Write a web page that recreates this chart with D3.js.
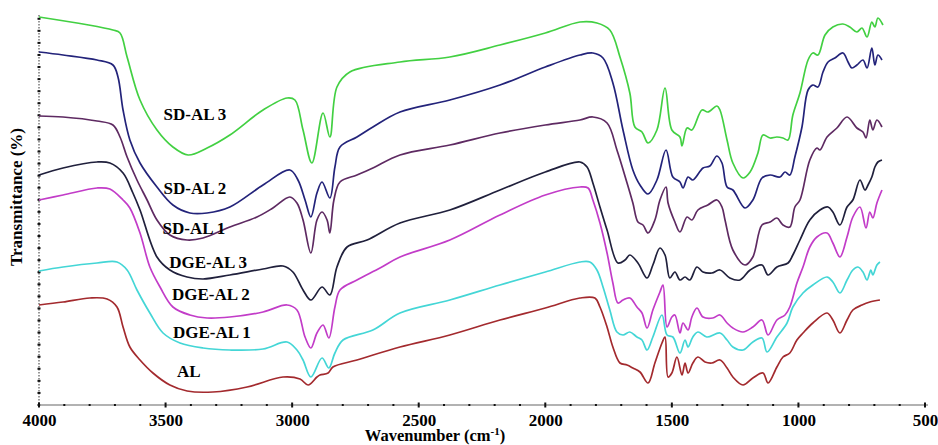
<!DOCTYPE html>
<html>
<head>
<meta charset="utf-8">
<script src="https://cdn.jsdelivr.net/npm/d3@7"></script>
<style>
  body { margin: 0; background: #fff; }
  svg text { font-family: "Liberation Serif", "Times New Roman", serif; font-weight: bold; }
</style>
</head>
<body>
<svg id="chart" width="938" height="445"></svg>
<script>
// FTIR spectra, [wavenumber cm-1, transmittance (offset, a.u.)]
const sdAl3 = [[4000,38.8],[3708,37.5],[3680,37.2],[3652,34.8],[3601,30.5],[3534,27.5],[3471,25.8],[3411,25.0],[3336,25.7],[3246,27.0],[3115,29.5],[3020,30.7],[2989,30.5],[2957,27.5],[2922,24.2],[2878,29.2],[2851,26.8],[2823,31.8],[2772,33.3],[2574,34.3],[2377,34.8],[2179,36.0],[2000,37.2],[1863,38.3],[1796,38.2],[1745,37.5],[1705,34.8],[1666,31.2],[1646,27.8],[1618,27.3],[1594,26.2],[1559,27.5],[1527,31.7],[1500,27.5],[1468,26.8],[1460,25.9],[1440,27.7],[1421,27.5],[1381,29.5],[1358,29.3],[1322,29.9],[1310,29.5],[1282,26.5],[1259,24.2],[1219,22.7],[1191,23.3],[1160,25.2],[1140,27.0],[1112,26.7],[1085,26.8],[1061,26.7],[1041,26.5],[1022,29.0],[994,31.2],[962,34.5],[943,35.2],[923,35.0],[895,37.0],[864,37.8],[824,38.1],[797,37.8],[769,37.3],[749,37.7],[729,36.8],[710,38.3],[698,37.8],[686,38.7],[666,38.0]];

const sdAl2 = [[4000,35.3],[3905,35.0],[3771,34.5],[3708,34.0],[3688,32.8],[3668,29.5],[3641,26.5],[3601,24.2],[3534,21.8],[3471,20.0],[3404,19.2],[3336,19.2],[3246,19.8],[3115,22.0],[3009,23.5],[2977,22.5],[2949,20.5],[2926,18.8],[2902,21.2],[2882,22.3],[2851,20.7],[2831,23.8],[2811,25.8],[2744,26.8],[2681,27.8],[2574,29.3],[2377,30.5],[2179,32.0],[2000,33.8],[1863,35.0],[1812,35.2],[1772,34.7],[1733,32.2],[1693,27.5],[1654,23.5],[1626,22.0],[1594,21.1],[1559,22.5],[1523,25.5],[1496,22.8],[1468,22.3],[1456,21.7],[1436,22.8],[1417,22.5],[1377,23.7],[1350,23.9],[1322,24.9],[1302,24.2],[1282,21.8],[1259,21.5],[1211,19.7],[1180,20.5],[1144,22.7],[1112,23.0],[1073,22.8],[1053,23.3],[1034,23.0],[1014,24.8],[986,27.8],[962,31.5],[943,32.0],[923,31.8],[903,33.3],[883,34.3],[856,34.7],[824,35.2],[804,34.3],[789,33.7],[769,34.0],[745,34.5],[729,33.7],[710,35.7],[698,34.0],[686,35.0],[670,34.5]];

const sdAl1 = [[4000,28.9],[3905,28.8],[3771,28.4],[3708,28.0],[3680,26.8],[3652,24.8],[3613,22.5],[3573,20.5],[3534,18.5],[3483,17.0],[3415,16.5],[3352,16.7],[3246,17.8],[3139,18.8],[3076,19.7],[3009,20.8],[2981,20.2],[2957,18.5],[2926,15.2],[2902,18.5],[2882,19.3],[2862,18.5],[2851,17.2],[2835,20.5],[2811,22.3],[2744,23.0],[2681,23.7],[2574,25.0],[2377,26.0],[2179,27.2],[2000,28.0],[1863,28.5],[1812,28.8],[1756,28.2],[1717,25.5],[1677,22.2],[1654,20.2],[1634,18.3],[1614,18.0],[1594,17.2],[1567,18.5],[1547,20.5],[1523,21.8],[1515,20.2],[1488,18.3],[1468,17.3],[1440,18.8],[1421,18.5],[1397,19.5],[1358,20.0],[1322,20.5],[1302,19.8],[1290,18.5],[1259,15.5],[1211,14.0],[1180,14.8],[1144,18.0],[1112,18.3],[1085,18.7],[1061,18.0],[1034,17.8],[1014,19.8],[994,20.5],[955,24.5],[927,25.7],[915,25.5],[887,26.8],[848,27.7],[808,28.8],[769,27.7],[745,27.3],[733,26.7],[718,28.5],[706,27.5],[690,28.5],[670,27.8]];

const dgeAl3 = [[4000,23.0],[3905,23.7],[3771,24.3],[3720,24.2],[3668,23.2],[3629,21.2],[3601,19.5],[3534,14.8],[3483,13.5],[3415,12.8],[3352,12.6],[3246,13.0],[3115,13.6],[3036,13.9],[2997,13.3],[2957,11.5],[2926,10.5],[2882,11.8],[2851,11.0],[2823,13.8],[2783,15.8],[2704,16.5],[2574,18.2],[2377,19.5],[2179,21.5],[2000,23.3],[1863,24.3],[1835,23.8],[1812,22.2],[1784,19.8],[1756,17.5],[1713,14.2],[1685,14.5],[1666,15.0],[1634,14.2],[1598,12.7],[1575,14.0],[1547,15.7],[1527,15.0],[1508,12.7],[1488,13.3],[1468,12.5],[1448,12.8],[1429,12.5],[1401,13.8],[1377,13.3],[1342,13.2],[1310,13.5],[1271,12.7],[1231,12.5],[1191,13.5],[1144,14.0],[1120,13.0],[1085,13.8],[1041,14.2],[1022,15.0],[994,16.5],[955,18.5],[915,19.5],[883,19.8],[864,19.3],[836,18.0],[808,19.8],[785,20.5],[757,22.5],[737,21.5],[725,22.0],[710,22.8],[698,23.8],[686,24.3],[670,24.5]];

const dgeAl2 = [[4000,20.5],[3905,21.0],[3771,21.7],[3720,21.6],[3668,20.5],[3641,19.7],[3601,17.2],[3562,13.8],[3522,11.8],[3471,9.8],[3404,9.0],[3336,8.7],[3246,8.8],[3115,9.3],[3020,10.0],[2981,9.5],[2949,6.8],[2926,5.7],[2902,7.2],[2878,8.0],[2855,6.7],[2831,9.8],[2811,11.5],[2744,12.5],[2653,13.7],[2574,14.8],[2377,16.5],[2179,19.0],[2000,21.0],[1863,21.8],[1831,21.7],[1812,20.5],[1784,18.2],[1756,15.2],[1733,12.2],[1713,10.2],[1693,10.5],[1666,10.7],[1638,9.8],[1618,9.2],[1598,7.7],[1575,9.5],[1547,11.3],[1535,12.0],[1519,7.8],[1500,8.8],[1488,9.0],[1468,7.2],[1456,8.2],[1436,7.5],[1421,8.8],[1401,9.7],[1377,8.8],[1338,8.7],[1310,9.0],[1282,8.2],[1259,7.7],[1219,7.3],[1180,7.8],[1144,8.5],[1120,7.0],[1085,8.5],[1053,9.0],[1034,9.8],[1006,12.2],[982,13.8],[955,15.8],[927,16.8],[887,17.2],[864,16.2],[836,14.8],[808,16.8],[785,18.8],[757,19.8],[733,17.7],[718,19.3],[706,18.7],[690,20.2],[670,21.5]];

const dgeAl1 = [[4000,13.4],[3905,13.8],[3771,14.2],[3692,14.3],[3652,13.5],[3613,11.5],[3562,9.2],[3510,7.2],[3443,6.2],[3352,5.7],[3246,5.5],[3115,5.6],[3020,6.3],[2981,5.5],[2957,4.5],[2926,2.8],[2882,4.7],[2855,3.7],[2831,5.2],[2799,6.5],[2681,7.5],[2574,9.2],[2377,10.5],[2179,12.0],[2000,13.3],[1863,14.3],[1824,14.3],[1796,13.5],[1772,11.8],[1745,9.5],[1717,7.3],[1693,7.0],[1666,7.3],[1638,6.8],[1618,6.5],[1598,5.5],[1575,6.8],[1539,9.0],[1519,7.0],[1496,6.8],[1468,5.2],[1448,6.5],[1436,5.8],[1417,6.8],[1397,7.3],[1362,6.8],[1310,7.2],[1282,6.5],[1259,5.8],[1219,5.5],[1180,6.3],[1144,6.7],[1124,5.3],[1085,6.8],[1045,8.2],[1022,9.8],[982,11.2],[943,12.0],[887,12.8],[864,12.3],[836,11.2],[808,12.5],[785,13.5],[765,13.8],[745,13.3],[729,12.5],[714,13.5],[706,13.0],[690,14.0],[678,14.3]];

const al = [[4000,10.0],[3905,10.3],[3799,10.7],[3731,10.6],[3692,9.8],[3668,7.8],[3641,5.8],[3601,4.5],[3550,3.2],[3483,2.0],[3415,1.4],[3313,1.3],[3178,1.8],[3036,2.8],[2969,2.6],[2937,2.0],[2902,2.8],[2890,3.0],[2858,3.2],[2839,3.8],[2744,4.5],[2574,5.8],[2377,7.0],[2179,8.5],[2000,9.7],[1863,10.7],[1804,10.7],[1784,9.8],[1756,7.8],[1733,5.8],[1705,4.2],[1677,4.0],[1654,3.7],[1626,3.3],[1594,2.2],[1567,4.2],[1539,6.2],[1527,6.8],[1515,2.8],[1500,3.2],[1480,4.8],[1460,3.0],[1448,4.2],[1436,3.2],[1417,4.2],[1397,4.8],[1369,4.3],[1342,4.2],[1310,4.5],[1282,3.7],[1259,2.8],[1219,2.0],[1180,2.7],[1140,3.2],[1120,2.2],[1085,3.8],[1061,4.8],[1034,5.2],[1006,6.5],[982,7.2],[943,8.2],[887,9.2],[864,8.5],[836,7.2],[808,8.5],[785,9.5],[749,10.0],[718,10.3],[678,10.5]];

const seriesNames = ["SD-AL 3", "SD-AL 2", "SD-AL 1", "DGE-AL 3", "DGE-AL 2", "DGE-AL 1", "AL"];
const seriesData = [sdAl3, sdAl2, sdAl1, dgeAl3, dgeAl2, dgeAl1, al];
const xTicks = [4000, 3500, 3000, 2500, 2000, 1500, 1000, 500];

// layout
const colors = ["#42d042", "#23237a", "#5e2a62", "#20203c", "#c23cc8", "#44d6d6", "#a32a2e"];
const labelAt = [[3384, 29.1], [3384, 21.7], [3388, 17.7], [3332, 14.3], [3321, 11.1], [3317, 7.3], [3408, 3.4]];

const svg = d3.select('#chart');
const x = d3.scaleLinear().domain([4000, 500]).range([39, 925]);
const y = d3.scaleLinear().domain([0, 39]).range([405, 15]);

// y axis: dotted line with small ticks
svg.append('line')
  .attr('x1', x(4000)).attr('x2', x(4000))
  .attr('y1', y(39)).attr('y2', y(0))
  .attr('stroke', '#555').attr('stroke-width', 1.2)
  .attr('stroke-dasharray', '1.5,1.5');
svg.append('g').selectAll('rect')
  .data(d3.range(0, 38.9, 1.207))
  .join('rect')
  .attr('x', x(4000) - 1.5).attr('y', d => y(d) - 1)
  .attr('width', 3).attr('height', 2)
  .attr('fill', '#111');

// x axis
const xAxis = d3.axisBottom(x)
  .tickValues(xTicks)
  .tickSize(0)
  .tickPadding(9)
  .tickFormat(d3.format('d'));
const gx = svg.append('g')
  .attr('transform', `translate(0,${y(0)})`)
  .call(xAxis);
gx.select('.domain').remove();
gx.selectAll('text')
  .attr('font-size', 17)
  .attr('font-family', '"Liberation Serif", serif')
  .attr('font-weight', 'bold')
  .attr('fill', '#000');
svg.append('line')
  .attr('x1', x(4000)).attr('x2', x(500) + 3)
  .attr('y1', y(0)).attr('y2', y(0))
  .attr('stroke', '#999').attr('stroke-width', 1.5);
svg.append('g').selectAll('rect')
  .data(d3.range(4000, 499, -100))
  .join('rect')
  .attr('x', d => x(d) - 1)
  .attr('y', d => d % 500 === 0 ? y(0) - 2.5 : y(0) - 1)
  .attr('width', 2)
  .attr('height', d => d % 500 === 0 ? 5 : 2)
  .attr('fill', '#111');

// spectra
const line = d3.line()
  .x(d => x(d[0]))
  .y(d => y(d[1]))
  .curve(d3.curveCatmullRom.alpha(0.5));

svg.append('g').selectAll('path')
  .data(seriesData)
  .join('path')
  .attr('d', line)
  .attr('fill', 'none')
  .attr('stroke', (d, i) => colors[i])
  .attr('stroke-width', 1.7)
  .attr('stroke-linejoin', 'round');

// curve labels
svg.append('g').selectAll('text')
  .data(seriesNames)
  .join('text')
  .attr('x', (d, i) => x(labelAt[i][0]))
  .attr('y', (d, i) => y(labelAt[i][1]))
  .attr('text-anchor', 'middle')
  .attr('dominant-baseline', 'central')
  .attr('font-size', 17)
  .text(d => d);

// axis titles
const xt = svg.append('text')
  .attr('x', 435).attr('y', 441)
  .attr('text-anchor', 'middle')
  .attr('font-size', 16.5);
xt.append('tspan').text('Wavenumber (cm');
xt.append('tspan').attr('dy', -6).attr('font-size', 11).text('-1');
xt.append('tspan').attr('dy', 6).text(')');

svg.append('text')
  .attr('transform', 'translate(22,197) rotate(-90)')
  .attr('text-anchor', 'middle')
  .attr('font-size', 17)
  .text('Transmittance (%)');
</script>
</body>
</html>
